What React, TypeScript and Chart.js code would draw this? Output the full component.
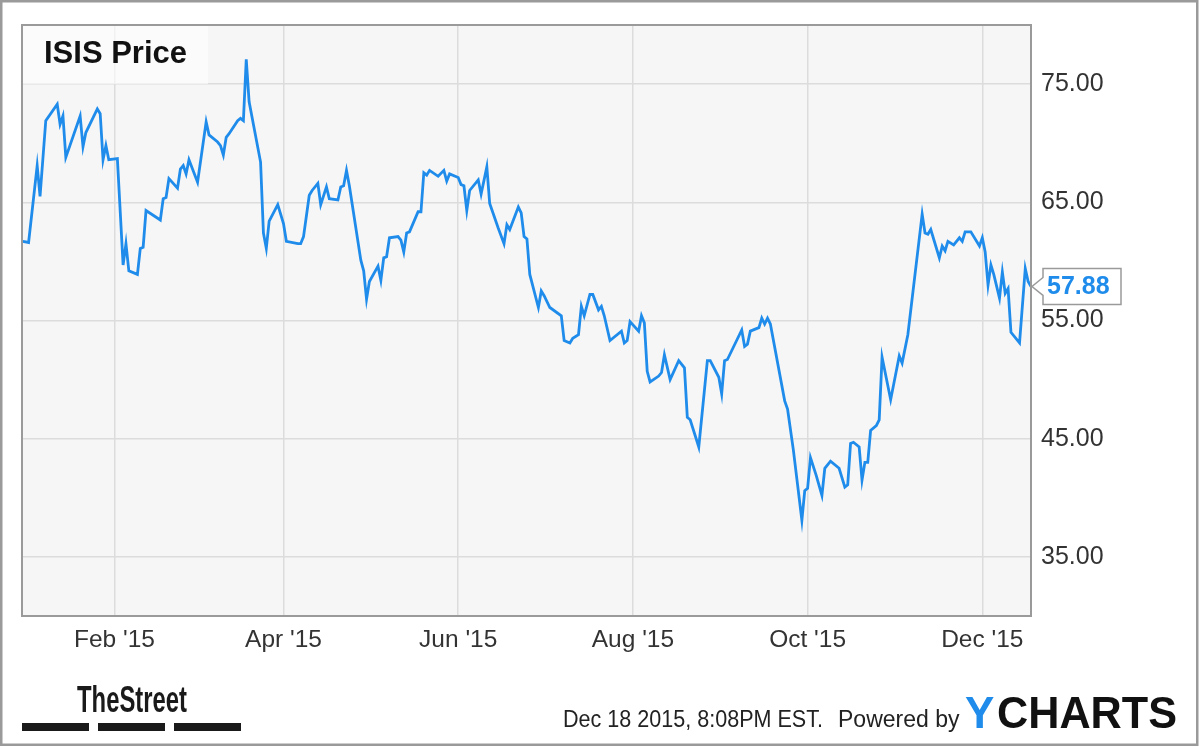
import React, { useEffect, useRef } from "react";
import { Chart, registerables } from "chart.js";

Chart.register(...registerables);

// day index: 0 = Jan 1 2015
const days = [
  -1, 1, 4, 5, 7, 11, 12, 13, 14, 19, 20, 21, 25, 26, 27, 28, 29, 32, 34, 35, 36, 39, 40, 41, 42, 47, 48, 49, 50, 53,
  54, 55, 56, 57, 60, 63, 64, 67, 68, 69, 70, 71, 74, 75, 76, 77, 78, 82, 83, 84, 85, 88, 90, 91, 95, 96, 97, 99, 100,
  102, 103, 105, 106, 109, 110, 111, 112, 113, 117, 118, 119, 120, 123, 124, 125, 126, 127, 130, 131, 132, 133, 134,
  137, 138, 139, 140, 141, 144, 146, 147, 148, 151, 152, 153, 154, 155, 158, 159, 161, 162, 165, 167, 168, 169, 172,
  173, 174, 175, 176, 179, 180, 181, 183, 187, 188, 190, 191, 193, 194, 195, 197, 198, 200, 201, 202, 204, 208, 209,
  210, 211, 214, 215, 216, 217, 218, 221, 222, 223, 225, 228, 230, 231, 232, 235, 238, 239, 242, 243, 244, 245, 250,
  251, 252, 253, 256, 257, 258, 259, 260, 265, 266, 268, 271, 272, 273, 274, 276, 278, 279, 281, 284, 286, 287, 288,
  289, 291, 292, 293, 294, 295, 297, 298, 299, 302, 305, 306, 308, 313, 314, 315, 316, 319, 320, 321, 322, 324, 326,
  327, 328, 330, 333, 334, 335, 336, 337, 338, 340, 341, 342, 343, 344, 347, 349, 350, 351,
];

const prices = [
  61.7, 61.6, 68.1, 65.5, 71.9, 73.3, 71.6, 72.3, 68.8, 72.3, 69.7, 70.9, 72.9, 72.5, 68.6, 69.8, 68.6, 68.7, 59.7, 61.5,
  59.2, 58.9, 61.1, 61.2, 64.3, 63.5, 65.3, 65.4, 67.0, 66.2, 67.8, 68.1, 67.4, 68.6, 66.7, 71.8, 70.7, 70.1, 69.8, 69.0,
  70.5, 70.8, 71.9, 72.1, 71.9, 77.1, 73.5, 68.4, 62.4, 61.1, 63.4, 64.8, 63.2, 61.7, 61.5, 61.5, 62.1, 65.6, 66.0, 66.6,
  64.8, 66.3, 65.3, 65.2, 66.3, 66.4, 67.7, 66.4, 60.1, 59.2, 56.8, 58.3, 59.6, 58.4, 60.3, 60.4, 62.0, 62.1, 61.8, 60.8,
  62.4, 62.5, 64.2, 64.2, 67.5, 67.3, 67.7, 67.2, 67.7, 66.8, 67.4, 67.1, 66.5, 66.4, 64.3, 66.0, 66.9, 65.7, 68.0, 64.9,
  62.8, 61.5, 63.1, 62.7, 64.6, 64.1, 62.1, 61.9, 58.9, 56.1, 57.5, 57.1, 56.1, 55.4, 53.3, 53.1, 53.5, 53.8, 56.2, 55.4,
  57.2, 57.2, 55.9, 56.2, 55.4, 53.3, 54.1, 53.1, 53.3, 54.9, 54.1, 55.4, 54.8, 50.7, 49.8, 50.3, 50.6, 52.1, 50.0, 51.6,
  51.0, 46.8, 46.6, 44.3, 51.6, 51.6, 50.2, 48.8, 51.6, 51.7, 54.2, 52.8, 53.0, 54.1, 54.4, 55.2, 54.7, 55.2, 54.7, 48.2,
  47.5, 44.1, 38.1, 40.6, 40.8, 43.4, 41.9, 40.2, 42.5, 43.1, 42.5, 40.9, 41.1, 44.6, 44.7, 44.3, 41.5, 43.0, 43.0, 45.7,
  46.1, 46.6, 51.9, 48.3, 52.0, 51.4, 53.8, 64.0, 62.4, 62.3, 62.7, 60.3, 61.3, 60.9, 61.7, 61.4, 62.0, 61.7, 62.5, 62.5,
  61.3, 62.0, 60.8, 58.0, 59.7, 58.9, 56.9, 59.1, 57.3, 57.7, 54.0, 53.1, 59.4, 58.3, 57.88,
];

const monthTicks = [31, 90, 151, 212, 273, 334];
const monthLabels = ["Feb '15", "Apr '15", "Jun '15", "Aug '15", "Oct '15", "Dec '15"];
const priceTicks = [35, 45, 55, 65, 75];

const TITLE = "ISIS Price";
const LINE_BLUE = "#1f8ceb";
const FONT = '"Liberation Sans", Arial, sans-serif';

const decorPlugin = {
  id: "decor",
  beforeDraw(chart: any) {
    const { ctx, chartArea: a } = chart;
    ctx.save();
    ctx.fillStyle = "#ffffff";
    ctx.fillRect(0, 0, chart.width, chart.height);
    ctx.fillStyle = "#f6f6f6";
    ctx.fillRect(a.left, a.top, a.right - a.left, a.bottom - a.top);
    ctx.restore();
  },
  beforeDatasetsDraw(chart: any) {
    const { ctx, chartArea: a } = chart;
    ctx.save();
    ctx.fillStyle = "rgba(255,255,255,0.6)";
    ctx.fillRect(a.left, a.top, 186, 59);
    ctx.fillStyle = "#111";
    ctx.font = "bold 31px " + FONT;
    ctx.textBaseline = "alphabetic";
    ctx.fillText(TITLE, a.left + 22, a.top + 38);
    ctx.restore();
  },
  afterDraw(chart: any) {
    const { ctx, chartArea: a } = chart;
    ctx.save();
    // plot frame
    ctx.strokeStyle = "#9a9a9a";
    ctx.lineWidth = 2;
    ctx.strokeRect(a.left, a.top, a.right - a.left, a.bottom - a.top);
    // outer frame
    ctx.lineWidth = 2.5;
    ctx.strokeRect(1.25, 1.25, 1196, 743.5);

    // last value callout
    const last = prices[prices.length - 1];
    const py = chart.scales.y.getPixelForValue(last);
    const tip = a.right;
    const bx = tip + 12;
    ctx.beginPath();
    ctx.moveTo(bx, py - 18);
    ctx.lineTo(bx + 78, py - 18);
    ctx.lineTo(bx + 78, py + 18);
    ctx.lineTo(bx, py + 18);
    ctx.lineTo(bx, py + 9);
    ctx.lineTo(tip + 1, py);
    ctx.lineTo(bx, py - 9);
    ctx.closePath();
    ctx.fillStyle = "#ffffff";
    ctx.fill();
    ctx.strokeStyle = "#9a9a9a";
    ctx.lineWidth = 1.5;
    ctx.stroke();
    ctx.fillStyle = LINE_BLUE;
    ctx.font = "bold 25px " + FONT;
    ctx.textBaseline = "middle";
    ctx.fillText(last.toFixed(2), bx + 4, py + 1);

    // footer: TheStreet logo
    ctx.textBaseline = "alphabetic";
    ctx.fillStyle = "#1a1a1a";
    ctx.font = "bold 36px " + FONT;
    ctx.fillText("TheStreet", 77, 712, 110);
    ctx.fillRect(22, 723, 67, 8);
    ctx.fillRect(98, 723, 67, 8);
    ctx.fillRect(174, 723, 67, 8);

    // footer: timestamp and YCharts
    ctx.fillStyle = "#222";
    ctx.font = "23px " + FONT;
    ctx.fillText("Dec 18 2015, 8:08PM EST.", 563, 727, 260);
    ctx.fillText("Powered by", 838, 727, 122);
    ctx.font = "bold 44px " + FONT;
    ctx.fillStyle = LINE_BLUE;
    ctx.fillText("Y", 965, 728, 30);
    ctx.fillStyle = "#111";
    ctx.fillText("CHARTS", 997, 728, 180);
    ctx.restore();
  },
};

export default function App() {
  const ref = useRef<HTMLCanvasElement | null>(null);
  useEffect(() => {
    document.body.style.margin = "0";
    const canvas = ref.current;
    if (!canvas) return;
    const chart = new Chart(canvas, {
      type: "line",
      data: {
        datasets: [
          {
            label: TITLE,
            data: days.map((d, i) => ({ x: d, y: prices[i] })),
            borderColor: LINE_BLUE,
            borderWidth: 2.8,
            pointRadius: 0,
            fill: false,
            tension: 0,
          },
        ],
      },
      options: {
        animation: false,
        responsive: false,
        maintainAspectRatio: false,
        layout: { padding: { left: 22, top: 22, right: 0, bottom: 0 } },
        plugins: { legend: { display: false }, tooltip: { enabled: false } },
        scales: {
          x: {
            type: "linear",
            min: -1.3,
            max: 351,
            afterBuildTicks: (s: any) => {
              s.ticks = monthTicks.map((v) => ({ value: v }));
            },
            afterFit: (s: any) => {
              s.height = 131;
            },
            ticks: {
              autoSkip: false,
              maxRotation: 0,
              padding: 10,
              color: "#333",
              font: { family: FONT, size: 24.5 },
              callback: (_v: any, i: number) => monthLabels[i],
            },
            grid: { color: "#dcdcdc", lineWidth: 1.5, drawTicks: false },
            border: { display: false },
          },
          y: {
            position: "right",
            min: 30,
            max: 80,
            afterBuildTicks: (s: any) => {
              s.ticks = priceTicks.map((v) => ({ value: v }));
            },
            afterFit: (s: any) => {
              s.width = 169;
            },
            ticks: {
              padding: 10,
              color: "#333",
              font: { family: FONT, size: 25 },
              callback: (v: any) => Number(v).toFixed(2),
            },
            grid: { color: "#dcdcdc", lineWidth: 1.5, drawTicks: false },
            border: { display: false },
          },
        },
      },
      plugins: [decorPlugin],
    } as any);
    return () => chart.destroy();
  }, []);
  return (
    <div style={{ position: "fixed", left: 0, top: 0, width: 1200, height: 747 }}>
      <canvas ref={ref} width={1200} height={747} />
    </div>
  );
}
